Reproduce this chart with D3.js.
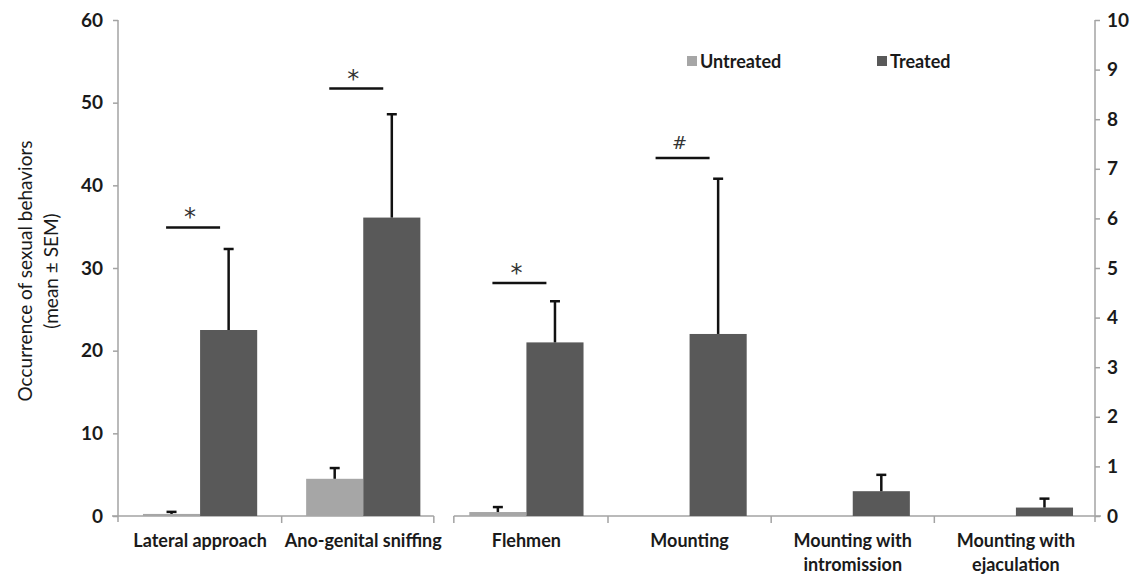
<!DOCTYPE html>
<html lang="en">
<head>
<meta charset="UTF-8">
<title>Sexual behaviors</title>
<script src="https://d3js.org/d3.v7.min.js"></script>
<style>
  body { margin: 0; background: #fff; }
  svg { width: 1145px; height: 575px; display: block; }
  text { font-family: Lato, "Open Sans", sans-serif; fill: #1a1a1a; }
</style>
</head>
<body>
<svg id="chart"></svg>
<script>
// data
var categories = ['Lateral approach', 'Ano-genital sniffing', 'Flehmen', 'Mounting',
  'Mounting with intromission', 'Mounting with ejaculation'];
var labelLines = [['Lateral approach'], ['Ano-genital sniffing'], ['Flehmen'], ['Mounting'],
  ['Mounting with', 'intromission'], ['Mounting with', 'ejaculation']];
// which axis each category is read on
var axisSide = ['left', 'left', 'right', 'right', 'right', 'right'];
var seriesNames = ['Untreated', 'Treated'];
var untreated = [0.25, 4.5, 0.08, 0, 0, 0];
var untreatedSem = [0.25, 1.3, 0.1, 0, 0, 0];
var treated = [22.5, 36.1, 3.5, 3.67, 0.5, 0.17];
var treatedSem = [9.8, 12.5, 0.83, 3.13, 0.33, 0.18];
var leftTicks = [0, 10, 20, 30, 40, 50, 60];
var rightTicks = [0, 1, 2, 3, 4, 5, 6, 7, 8, 9, 10];
// significance marks: category, symbol, level (in that category's axis units)
var sigCats = ['Lateral approach', 'Ano-genital sniffing', 'Flehmen', 'Mounting'];
var sigSymbols = ['*', '*', '*', '#'];
var sigLevels = [34.9, 51.7, 4.7, 7.22];

var colors = ['#a6a6a6', '#595959'];
var axisColor = '#a3a3a3';

var svg = d3.select('#chart');

var yLeft = d3.scaleLinear().domain([0, 60]).range([516, 20]);
var yRight = d3.scaleLinear().domain([0, 10]).range([516, 20]);
function yFor(i) { return axisSide[i] === 'left' ? yLeft : yRight; }

var x0 = d3.scaleBand().domain(categories).range([118.5, 1097.5])
  .paddingInner(0.3).paddingOuter(0.15);
var x1 = d3.scaleBand().domain(seriesNames).range([0, x0.bandwidth()]);
var step = x0.step();

// left axis
var gl = svg.append('g').attr('transform', 'translate(118,0)')
  .call(d3.axisLeft(yLeft).tickValues(leftTicks).tickSize(5).tickPadding(10));
gl.select('.domain').remove();
gl.selectAll('.tick line').attr('stroke', axisColor).attr('stroke-width', 1.5);
gl.selectAll('.tick text').style('font-size', '19px').style('font-weight', 'bold');
gl.append('line').attr('x1', 0).attr('x2', 0).attr('y1', yLeft(60)).attr('y2', yLeft(0) + 6)
  .attr('stroke', axisColor).attr('stroke-width', 1.5);

// right axis
var gr = svg.append('g').attr('transform', 'translate(1095,0)')
  .call(d3.axisRight(yRight).tickValues(rightTicks).tickSize(5).tickPadding(7));
gr.select('.domain').remove();
gr.selectAll('.tick line').attr('stroke', axisColor).attr('stroke-width', 1.5);
gr.selectAll('.tick text').style('font-size', '19px').style('font-weight', 'bold');
gr.append('line').attr('x1', 0).attr('x2', 0).attr('y1', yRight(10)).attr('y2', yRight(0) + 6)
  .attr('stroke', axisColor).attr('stroke-width', 1.5);

// x axis, drawn as two segments (left-axis group and right-axis group)
var split = x0(categories[1]) + x0.bandwidth() / 2 + step / 2;
var xAxisG = svg.append('g').attr('stroke', axisColor).attr('stroke-width', 1.5);
xAxisG.append('line').attr('x1', 112).attr('x2', split - 11)
  .attr('y1', yLeft(0)).attr('y2', yLeft(0));
xAxisG.append('line').attr('x1', split + 9).attr('x2', 1101)
  .attr('y1', yLeft(0)).attr('y2', yLeft(0));
var bounds = [split - 11, split + 9];
categories.forEach(function(c, i) {
  if (i > 0 && i !== 2) bounds.push(x0(c) + x0.bandwidth() / 2 - step / 2);
});
xAxisG.selectAll('line.tk').data(bounds).join('line').attr('class', 'tk')
  .attr('x1', function(d) { return d; }).attr('x2', function(d) { return d; })
  .attr('y1', yLeft(0)).attr('y2', yLeft(0) + 7);

// bars
var groups = svg.append('g').selectAll('g').data(categories).join('g')
  .attr('transform', function(d) { return 'translate(' + x0(d) + ',0)'; });

[untreated, treated].forEach(function(vals, s) {
  var sem = s === 0 ? untreatedSem : treatedSem;
  groups.each(function(c, i) {
    var y = yFor(i);
    var g = d3.select(this);
    if (vals[i] > 0) {
      g.append('rect')
        .attr('x', x1(seriesNames[s])).attr('width', x1.bandwidth())
        .attr('y', y(vals[i])).attr('height', y(0) - y(vals[i]))
        .attr('fill', colors[s]);
    }
    if (sem[i] > 0) {
      var cx = x1(seriesNames[s]) + x1.bandwidth() / 2;
      var top = y(vals[i] + sem[i]);
      g.append('line').attr('x1', cx).attr('x2', cx)
        .attr('y1', y(vals[i])).attr('y2', top)
        .attr('stroke', '#111').attr('stroke-width', 2.5);
      g.append('line').attr('x1', cx - 5).attr('x2', cx + 5)
        .attr('y1', top).attr('y2', top)
        .attr('stroke', '#111').attr('stroke-width', 2.5);
    }
  });
});

// significance marks
sigCats.forEach(function(c, k) {
  var i = categories.indexOf(c);
  var y = yFor(i);
  var cx = x0(c) + x0.bandwidth() / 2 - 7;
  svg.append('line').attr('x1', cx - 27).attr('x2', cx + 27)
    .attr('y1', y(sigLevels[k])).attr('y2', y(sigLevels[k]))
    .attr('stroke', '#111').attr('stroke-width', 2.5);
  svg.append('text').attr('x', cx - 3).attr('y', y(sigLevels[k]) - (sigSymbols[k] === '*' ? 2 : 9))
    .attr('text-anchor', 'middle')
    .style('font-size', sigSymbols[k] === '*' ? '24px' : '18px')
    .style('font-family', 'DejaVu Sans, sans-serif')
    .style('fill', '#333')
    .text(sigSymbols[k]);
});

// category labels
var lab = svg.append('g').selectAll('text').data(categories).join('text')
  .attr('text-anchor', 'middle')
  .attr('x', function(d) { return x0(d) + x0.bandwidth() / 2; })
  .attr('y', 547)
  .style('font-size', '18px').style('font-weight', 'bold');
lab.each(function(d, i) {
  d3.select(this).selectAll('tspan').data(labelLines[i]).join('tspan')
    .attr('x', x0(d) + x0.bandwidth() / 2)
    .attr('dy', function(t, j) { return j === 0 ? 0 : 24; })
    .text(function(t) { return t; });
});

// y axis title
var title = svg.append('text').attr('transform', 'translate(32,271) rotate(-90)')
  .attr('text-anchor', 'middle').style('font-size', '19px');
title.append('tspan').attr('x', 0).attr('dy', 0).text('Occurrence of sexual behaviors');
title.append('tspan').attr('x', 0).attr('dy', 26).text('(mean \u00b1 SEM)');

// legend
var legendX = [687, 877];
seriesNames.forEach(function(n, s) {
  svg.append('rect').attr('x', legendX[s]).attr('y', 56).attr('width', 10).attr('height', 10)
    .attr('fill', colors[s]);
  svg.append('text').attr('x', legendX[s] + 13).attr('y', 68)
    .style('font-size', '18px').style('font-weight', 'bold').text(n);
});
</script>
</body>
</html>
